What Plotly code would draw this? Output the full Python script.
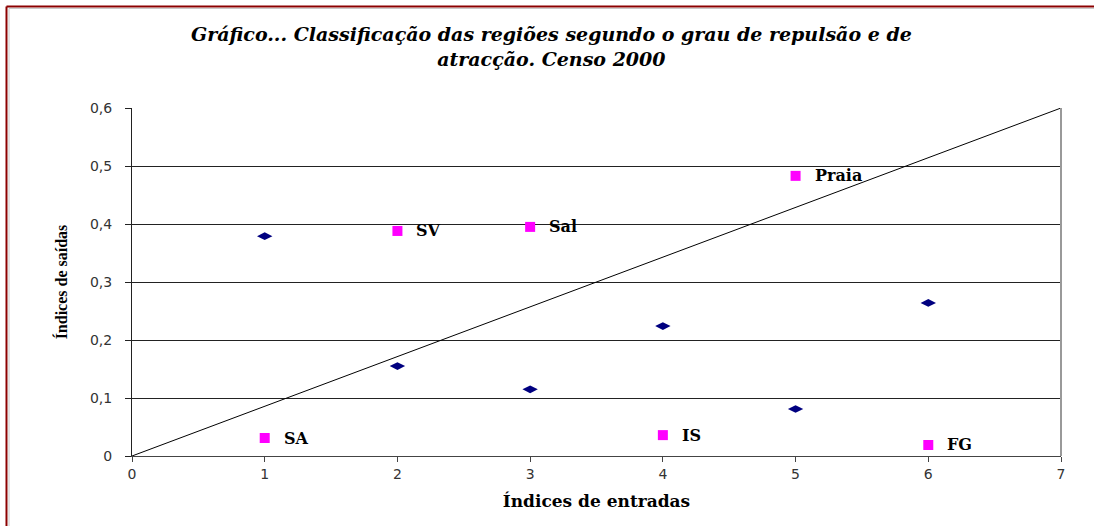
import plotly.graph_objects as go

# Data
entradas = [1, 2, 3, 4, 5, 6]
saidas_base = [0.379, 0.155, 0.115, 0.224, 0.081, 0.264]
saidas_regioes = [0.031, 0.388, 0.395, 0.036, 0.483, 0.019]
regioes = ["SA", "SV", "Sal", "IS", "Praia", "FG"]
diag_x = [0, 7]
diag_y = [0, 0.6]
y_ticks = [0, 0.1, 0.2, 0.3, 0.4, 0.5, 0.6]
y_ticklabels = ["0", "0,1", "0,2", "0,3", "0,4", "0,5", "0,6"]
x_ticks = [0, 1, 2, 3, 4, 5, 6, 7]

title_text = ("<b><i>Gráfico... Classificação das regiões segundo o grau de repulsão e de"
              "<br>atracção. Censo 2000</i></b>")

fig = go.Figure()

fig.add_trace(go.Scatter(
    x=diag_x, y=diag_y, mode="lines",
    line=dict(color="black", width=1), hoverinfo="skip", showlegend=False))

fig.add_trace(go.Scatter(
    x=entradas, y=saidas_base, mode="markers",
    marker=dict(symbol="diamond-wide", size=11, color="#000080"),
    showlegend=False))

fig.add_trace(go.Scatter(
    x=entradas, y=saidas_regioes, mode="markers",
    marker=dict(symbol="square", size=10, color="#FF00FF"),
    showlegend=False))

for xv, yv, lab in zip(entradas, saidas_regioes, regioes):
    fig.add_annotation(
        x=xv, y=yv, text="<b>" + lab + "</b>", showarrow=False,
        xanchor="left", yanchor="middle", xshift=17,
        font=dict(family="DejaVu Serif", size=16, color="black"))

# chart frame (dark red border at top and left, thin grey inner line)
fig.add_shape(type="line", xref="paper", yref="paper",
              x0=-0.1351, x1=1.04, y0=1.2917, y1=1.2917,
              line=dict(color="#8B0000", width=2))
fig.add_shape(type="line", xref="paper", yref="paper",
              x0=-0.1351, x1=-0.1351, y0=1.2917, y1=-0.21,
              line=dict(color="#8B0000", width=2))
fig.add_shape(type="line", xref="paper", yref="paper",
              x0=-0.1324, x1=1.04, y0=1.2860, y1=1.2860,
              line=dict(color="#C8C8C8", width=1))
fig.add_shape(type="line", xref="paper", yref="paper",
              x0=-0.1324, x1=-0.1324, y0=1.2860, y1=-0.21,
              line=dict(color="#C8C8C8", width=1))
# right edge of plot area
fig.add_shape(type="line", xref="paper", yref="paper",
              x0=1, x1=1, y0=0, y1=1,
              line=dict(color="#999999", width=2))

fig.update_layout(
    width=1094, height=526,
    margin=dict(l=132, r=33, t=108, b=70),
    paper_bgcolor="white", plot_bgcolor="white",
    title=dict(text=title_text, x=0.504, xref="container", xanchor="center",
               y=0.922, yanchor="top",
               font=dict(family="DejaVu Serif", size=19, color="black")),
    xaxis=dict(range=[0, 7], tickvals=x_ticks, showgrid=False,
               showline=True, linecolor="#444444", linewidth=1,
               ticks="outside", ticklen=5, tickcolor="#444444",
               tickfont=dict(family="DejaVu Sans", size=14, color="#333333"),
               title=dict(text="<b>Índices de entradas</b>", standoff=14,
                          font=dict(family="DejaVu Serif", size=17, color="black")),
               zeroline=False, fixedrange=True),
    yaxis=dict(range=[0, 0.6], tickvals=y_ticks, ticktext=y_ticklabels,
               showgrid=True, gridcolor="#222222", gridwidth=1,
               showline=True, linecolor="#222222", linewidth=1,
               ticks="outside", ticklen=6, tickcolor="#222222",
               ticklabelstandoff=10,
               tickfont=dict(family="DejaVu Sans", size=14, color="#333333"),
               title=dict(text="<b>Índices de saídas</b>", standoff=18,
                          font=dict(family="Liberation Serif", size=16, color="black")),
               zeroline=False, fixedrange=True),
)

fig.write_html("out.html", config={"displayModeBar": False},
               post_script="document.body.style.margin='0';")
